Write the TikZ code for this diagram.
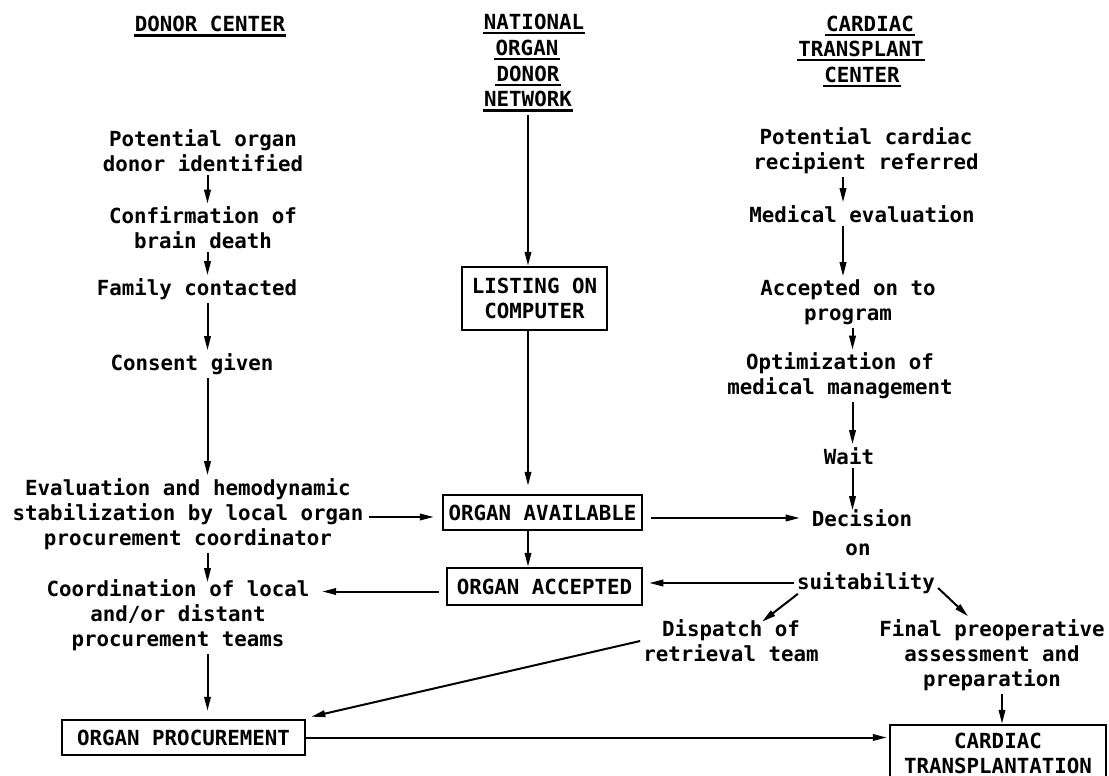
\documentclass[tikz,border=0pt]{standalone}
\usepackage{fontspec}
\newfontfamily\dmono{DejaVu Sans Mono}
\usetikzlibrary{arrows.meta,calc}
\begin{document}
\begin{tikzpicture}[x=1pt,y=-1pt,
  txt/.style={font={\dmono\bfseries\fontsize{20.8}{25}\selectfont}, align=center, inner sep=3pt},
  box/.style={txt, draw, line width=2.5pt, inner sep=0pt},
  hdr/.style={font={\dmono\bfseries\fontsize{20.8}{25}\selectfont}, inner xsep=1pt, inner ysep=0pt,
    text height=15pt, text depth=3.5pt,
    append after command={(\tikzlastnode.south west) edge[line width=2.5pt] (\tikzlastnode.south east)}},
  arr/.style={line width=2pt, -{Triangle[length=14pt,width=6.5pt]}}
]
\fill[white] (0,0) rectangle (1109,776);
\clip (0,0) rectangle (1109,776);

% column x coordinates for vertical connectors
\coordinate (xL) at (207.5,0);
\coordinate (xM) at (528,0);
\coordinate (xR) at (843,0);
\coordinate (xR2) at (852.5,0);
\coordinate (xF) at (1002,0);

% headers
\node[hdr] (dcH) at (210,26) {DONOR CENTER};
\node[hdr] (nat) at (534,23.75) {NATIONAL};
\node[hdr] (org) at (527,49.75) {ORGAN};
\node[hdr] (don) at (528,75.75) {DONOR};
\node[hdr] (nwk) at (528,101) {NETWORK};
\node[hdr] (cd) at (870,25.75) {CARDIAC};
\node[hdr] (tr) at (861,50.75) {TRANSPLANT};
\node[hdr] (ce) at (862,76.75) {CENTER};

% donor center column
\node[txt] (pod) at (203,151) {Potential organ\\donor identified};
\node[txt] (cbd) at (203,228) {Confirmation of\\brain death};
\node[txt] (fam) at (197,289) {Family contacted};
\node[txt] (cons) at (192,364) {Consent given};
\node[txt] (eval) at (188,514) {Evaluation and hemodynamic\\stabilization by local organ\\procurement coordinator};
\node[txt] (coord) at (178,615) {Coordination of local\\and/or distant\\procurement teams};
\node[box, minimum width=243pt, minimum height=35pt] (proc) at (183.5,737.5) {ORGAN PROCUREMENT};

% network column
\node[box, minimum width=145pt, minimum height=63pt] (list) at (534.5,298.5) {LISTING ON\\COMPUTER};
\node[box, minimum width=199pt, minimum height=35pt] (avail) at (542.5,512.5) {ORGAN AVAILABLE};
\node[box, minimum width=195pt, minimum height=37pt] (accp) at (544.5,586.5) {ORGAN ACCEPTED};

% transplant center column
\node[txt] (pcr) at (866,151) {Potential cardiac\\recipient referred};
\node[txt] (med) at (862,214) {Medical evaluation};
\node[txt] (acc) at (848,302) {Accepted on to\\program};
\node[txt] (opt) at (840,376) {Optimization of\\medical management};
\node[txt] (wait) at (849,456) {Wait};
\node[txt] (dec) at (862,518) {Decision};
\node[txt] (decon) at (858,550) {on};
\node[txt] (suit) at (866,583) {suitability};
\node[txt] (disp) at (731,641) {Dispatch of\\retrieval team};
\node[txt] (fin) at (992,655) {Final preoperative\\assessment and\\preparation};
\node[box, minimum width=216pt, minimum height=56pt] (card) at (998,753) {CARDIAC\\TRANSPLANTATION};

% left column connectors
\draw[arr] (pod.south -| xL) -- (cbd.north -| xL);
\draw[arr] (cbd.south -| xL) -- (fam.north -| xL);
\draw[arr] (fam.south -| xL) -- (cons.north -| xL);
\draw[arr] (cons.south -| xL) -- (eval.north -| xL);
\draw[arr, shorten >=-6pt] (eval.south -| xL) -- (coord.north -| xL);
\draw[arr, shorten >=8pt] (coord.south -| xL) -- (proc.north -| xL);

% middle column connectors
\draw[arr, shorten <=5pt] (nwk.south -| xM) -- (list.north -| xM);
\draw[arr, shorten >=8pt] (list.south -| xM) -- (avail.north -| xM);
\draw[arr] (avail.south -| xM) -- (accp.north -| xM);

% right column connectors
\draw[arr] (pcr.south -| xR) -- (med.north -| xR);
\draw[arr] (med.south -| xR) -- (acc.north -| xR);
\draw[arr] (acc.south -| xR2) -- (opt.north -| xR2);
\draw[arr] (opt.south -| xR2) -- (wait.north -| xR2);
\draw[arr, shorten >=-4pt] (wait.south -| xR2) -- (dec.north -| xR2);

% cross connectors
\draw[arr, shorten <=2pt, shorten >=8pt] ([yshift=-3pt]eval.east) -- ([yshift=-3pt]eval.east -| avail.west);
\draw[arr, shorten <=8pt, shorten >=9pt] ([yshift=-5.5pt]avail.east) -- ([yshift=-5.5pt]avail.east -| dec.west);
\draw[arr, shorten >=6pt] (suit.west) -- (suit.west -| accp.east);
\draw[arr, shorten <=7pt, shorten >=9.5pt] ([yshift=-5pt]accp.west) -- ([yshift=-5pt]accp.west -| coord.east);
\draw[arr] ([xshift=4pt,yshift=3pt]suit.south west) -- ([xshift=31pt,yshift=-5pt]disp.north);
\draw[arr] ([yshift=-5pt]suit.east) -- ([xshift=-24pt]fin.north);
\draw[arr] (disp.west) -- ([xshift=5pt,yshift=2pt]proc.north east);
\draw[arr, shorten >=2pt] (proc.east) -- (proc.east -| card.west);
\draw[arr] (fin.south -| xF) -- (card.north -| xF);
\end{tikzpicture}
\end{document}
